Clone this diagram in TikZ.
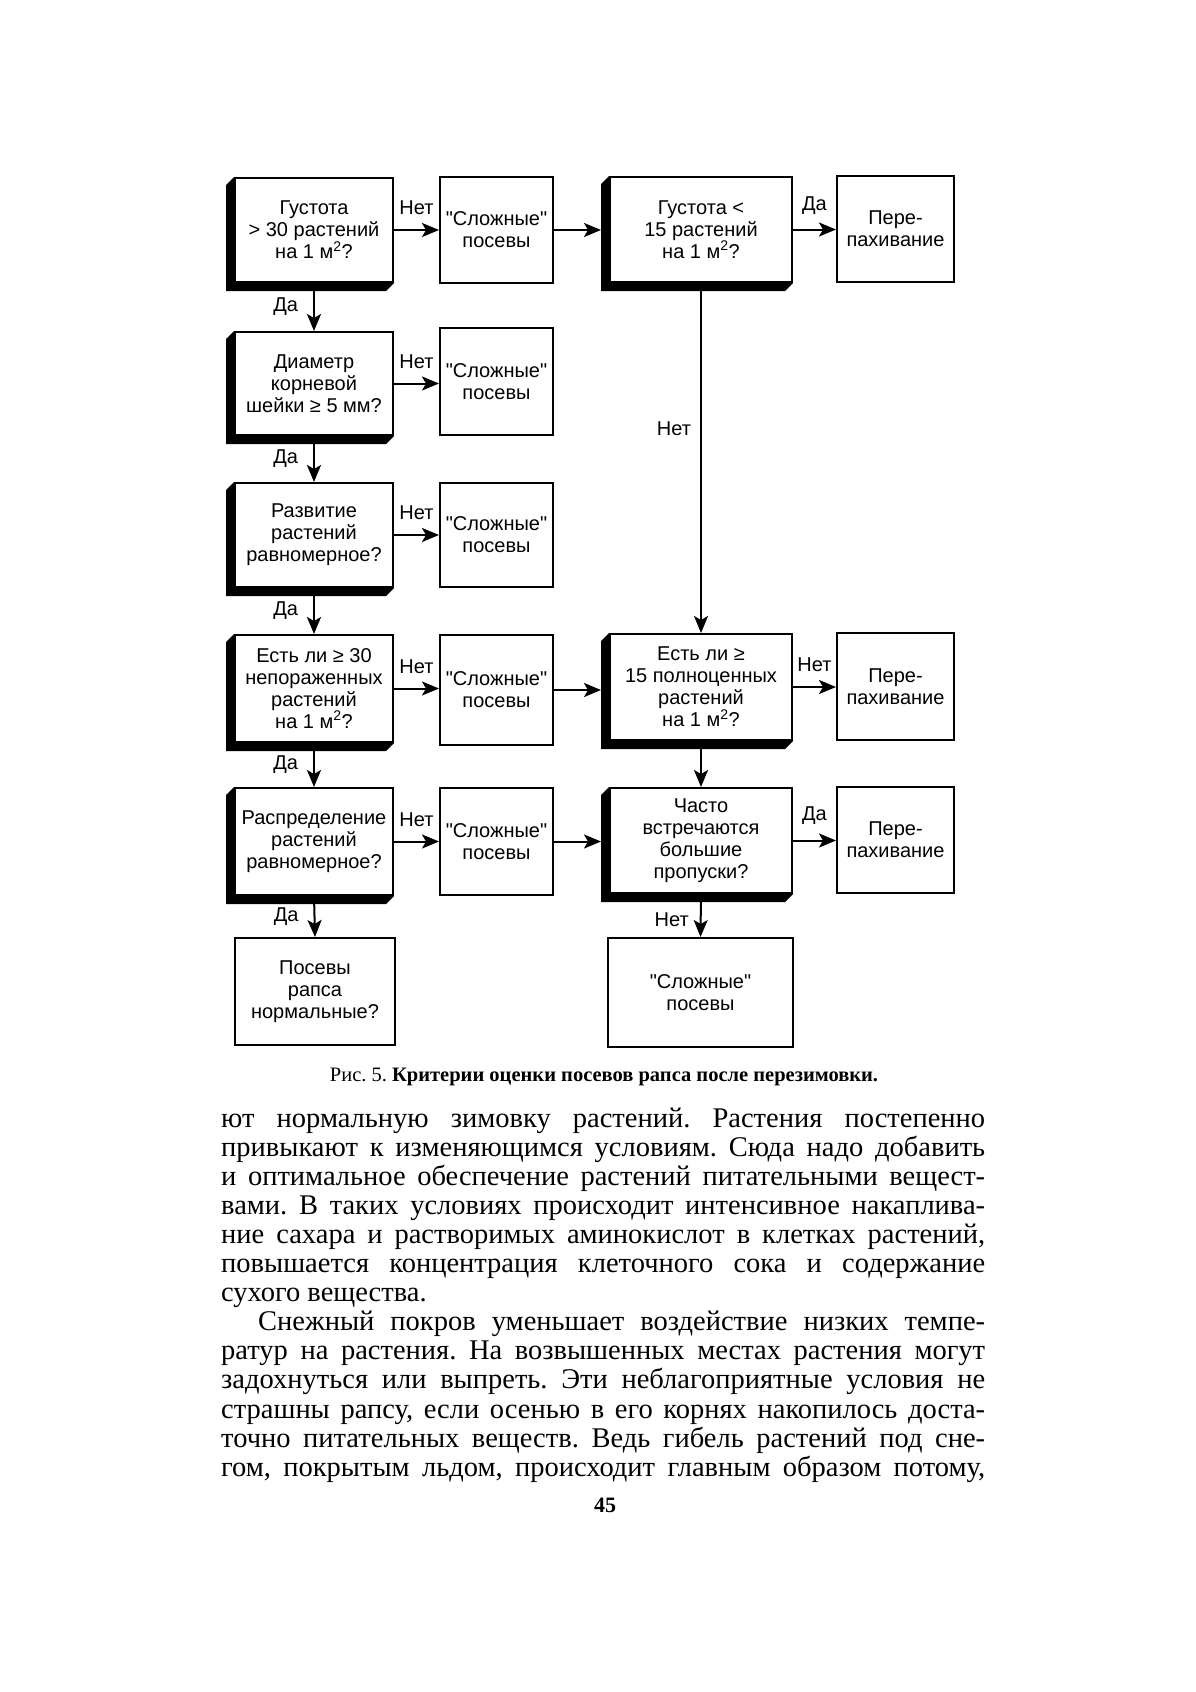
\documentclass[tikz,border=0pt]{standalone}
\usepackage{fontspec}
\setmainfont{Liberation Serif}
\newfontfamily\dgfam{Liberation Sans}
\usetikzlibrary{arrows.meta}
\newcommand\dgfont{\dgfam\fontsize{20}{22}\selectfont}
\newcommand\bodyfnt{\fontsize{28.5}{29}\selectfont}
\newcommand\bline[1]{\makebox[764pt][s]{#1}}
\frenchspacing
\begin{document}
\begin{tikzpicture}[x=1pt,y=-1pt,
  box/.style={draw, line width=2pt, fill=white, inner sep=0pt, align=center, font=\dgfont},
  arr/.style={line width=2pt, -{Stealth[length=17pt,width=14pt,inset=4pt]}},
  lbl/.style={font=\dgfont, inner sep=1pt},
  bodyline/.style={anchor=base west, inner sep=0pt, font=\bodyfnt}]
\fill[white] (0,0) rectangle (1196,1692);
\useasboundingbox (0,0) rectangle (1196,1692);

% left decision column
\node[box, minimum width=158pt, minimum height=104pt] (q1) at (314,230) {Густота\\> 30 растений\\на 1 м\textsuperscript{2}?};
\node[box, minimum width=158pt, minimum height=103pt] (q2) at (314,383.5) {Диаметр\\корневой\\шейки ≥ 5 мм?};
\node[box, minimum width=158pt, minimum height=104pt] (q3) at (314,535) {Развитие\\растений\\равномерное?};
\node[box, minimum width=158pt, minimum height=107pt] (q4) at (314,688.5) {Есть ли ≥ 30\\непораженных\\растений\\на 1 м\textsuperscript{2}?};
\node[box, minimum width=158pt, minimum height=107pt] (q5) at (314,841.5) {Распределение\\растений\\равномерное?};
\node[box, minimum width=160pt, minimum height=107pt] (qe) at (315,991.5) {Посевы\\рапса\\нормальные?};

% "complex" column
\node[box, minimum width=113pt, minimum height=106pt] (s1) at (496.5,230) {"Сложные"\\посевы};
\node[box, minimum width=113pt, minimum height=107pt] (s2) at (496.5,381.5) {"Сложные"\\посевы};
\node[box, minimum width=113pt, minimum height=104pt] (s3) at (496.5,535) {"Сложные"\\посевы};
\node[box, minimum width=113pt, minimum height=110pt] (s4) at (496.5,690) {"Сложные"\\посевы};
\node[box, minimum width=113pt, minimum height=107pt] (s5) at (496.5,841.5) {"Сложные"\\посевы};

% right decision column
\node[box, minimum width=182pt, minimum height=105pt] (r1) at (701,229.5) {Густота <\\15 растений\\на 1 м\textsuperscript{2}?};
\node[box, minimum width=182pt, minimum height=106pt] (r2) at (701,687) {Есть ли ≥\\15 полноценных\\растений\\на 1 м\textsuperscript{2}?};
\node[box, minimum width=182pt, minimum height=105pt] (r3) at (701,840.5) {Часто\\встречаются\\большие\\пропуски?};
\node[box, minimum width=185pt, minimum height=109pt] (re) at (700.5,992.5) {"Сложные"\\посевы};

% ploughing column
\node[box, minimum width=117pt, minimum height=106pt] (p1) at (895.5,229) {Пере-\\пахивание};
\node[box, minimum width=117pt, minimum height=107pt] (p2) at (895.5,686.5) {Пере-\\пахивание};
\node[box, minimum width=117pt, minimum height=106pt] (p3) at (895.5,840) {Пере-\\пахивание};

% 3D shadows
\foreach \n in {q1,q2,q3,q4,q5,r1,r2,r3}{
  \fill (\n.north west) -- ++(-8,8) -- ([shift={(-8,8)}]\n.south west)
        -- ([shift={(-8,8)}]\n.south east) -- (\n.south east) -- (\n.south west) -- cycle;
}
\foreach \n in {r1,r2,r3}{ \coordinate (\n w) at ([xshift=-8pt]\n.west); }

% connectors left column
\foreach \a/\b in {q1/s1,q2/s2,q3/s3,q4/s4,q5/s5}{
  \draw[arr] (\a.east) -- (\a.east -| \b.west) node[lbl, midway, above=13pt] {Нет};
}
\foreach \a/\b in {q1/q2,q2/q3,q3/q4,q4/q5,q5/qe}{
  \draw[arr] (\a.south) -- (\b.north) node[lbl, midway, left=14pt] {Да};
}
% to right column
\draw[arr] (s1.east) -- (s1.east -| r1w);
\draw[arr] (s4.east) -- (s4.east -| r2w);
\draw[arr] (s5.east) -- (s5.east -| r3w);
% right column
\draw[arr] (r1.east) -- (r1.east -| p1.west) node[lbl, midway, above=13pt] {Да};
\draw[arr] (r2.east) -- (r2.east -| p2.west) node[lbl, midway, above=13pt] {Нет};
\draw[arr] (r3.east) -- (r3.east -| p3.west) node[lbl, midway, above=14pt] {Да};
\draw[arr] (r1.south) -- (r2.north) node[lbl, pos=0.415, left=8pt] {Нет};
\draw[arr] (r2.south) -- (r3.north);
\draw[arr] (r3.south) -- (re.north) node[lbl, pos=0.6, left=10pt] {Нет};

% caption
\node[font=\fontsize{20.5}{24}\selectfont, inner sep=0pt] (cap) at (604,1077) {Рис. 5. \textbf{Критерии оценки посевов рапса после перезимовки.}};

% body text
\node[bodyline] (l1) at (221,1127) {\bline{ют нормальную зимовку растений. Растения постепенно}};
\node[bodyline] (l2) at (221,1156.1) {\bline{привыкают к изменяющимся условиям. Сюда надо добавить}};
\node[bodyline] (l3) at (221,1185.2) {\bline{и оптимальное обеспечение растений питательными вещест-}};
\node[bodyline] (l4) at (221,1214.3) {\bline{вами. В таких условиях происходит интенсивное накаплива-}};
\node[bodyline] (l5) at (221,1243.4) {\bline{ние сахара и растворимых аминокислот в клетках растений,}};
\node[bodyline] (l6) at (221,1272.5) {\bline{повышается концентрация клеточного сока и содержание}};
\node[bodyline] (l7) at (221,1301.6) {сухого вещества.};
\node[bodyline] (l8) at (258,1330.7) {\makebox[727pt][s]{Снежный покров уменьшает воздействие низких темпе-}};
\node[bodyline] (l9) at (221,1359.8) {\bline{ратур на растения. На возвышенных местах растения могут}};
\node[bodyline] (l10) at (221,1388.9) {\bline{задохнуться или выпреть. Эти неблагоприятные условия не}};
\node[bodyline] (l11) at (221,1418) {\bline{страшны рапсу, если осенью в его корнях накопилось доста-}};
\node[bodyline] (l12) at (221,1447.1) {\bline{точно питательных веществ. Ведь гибель растений под сне-}};
\node[bodyline] (l13) at (221,1476.2) {\bline{гом, покрытым льдом, происходит главным образом потому,}};

% page number
\node[font=\fontsize{22}{24}\selectfont\bfseries, inner sep=0pt] (pg) at (605,1505) {45};
\end{tikzpicture}
\end{document}
